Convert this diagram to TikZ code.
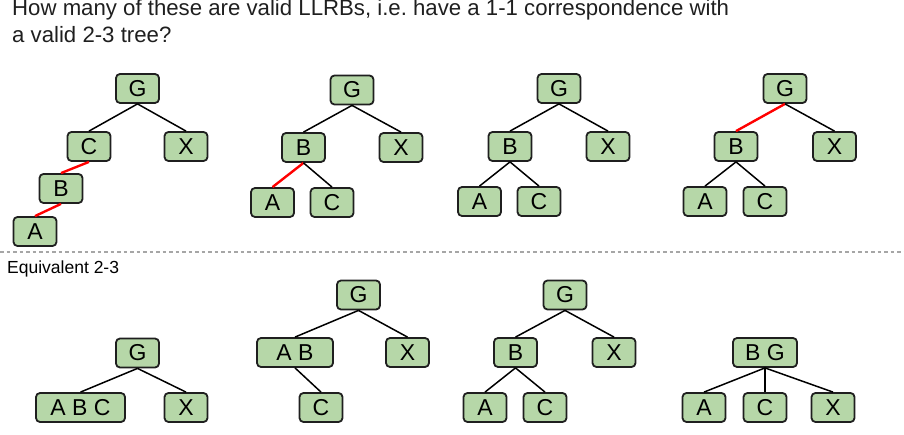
\documentclass[tikz,border=0pt]{standalone}
\usepackage{fontspec}
\setmainfont{Liberation Sans}
\definecolor{nodefill}{HTML}{B6D7A8}
\definecolor{nodeline}{HTML}{1F1F1F}
\definecolor{titlecol}{HTML}{1F1F1F}
\definecolor{redge}{HTML}{FF0000}
\definecolor{dashcol}{HTML}{A6A6A6}
\tikzset{
  tnode/.style={draw=nodeline, fill=nodefill, line width=1.8pt, rounded corners=4pt,
    minimum width=43pt, minimum height=29pt, inner sep=0pt,
    font=\fontsize{23}{24}\selectfont},
  bedge/.style={draw=black, line width=1.5pt},
  redgeline/.style={draw=redge, line width=2.4pt},
}
\begin{document}
\begin{tikzpicture}[x=1pt,y=-1pt]
\useasboundingbox (0,0) rectangle (904,435);
% title
\node[anchor=base west, inner sep=0pt, text=titlecol, font=\fontsize{22.2}{24}\selectfont] (t1) at (12,16) {How many of these are valid LLRBs, i.e.\ have a 1-1 correspondence with};
\node[anchor=base west, inner sep=0pt, text=titlecol, font=\fontsize{22.2}{24}\selectfont] (t2) at (12,42.7) {a valid 2-3 tree?};
% tree 1
\node[tnode] (g1) at (137.5,88.5) {G};
\node[tnode] (c1) at (89,146.5) {C};
\node[tnode] (x1) at (186,146.5) {X};
\node[tnode] (b1) at (61,188.5) {B};
\node[tnode] (a1) at (35,231.5) {A};
\draw[bedge] (g1.south) -- (c1.north);
\draw[bedge] (g1.south) -- (x1.north);
\draw[redgeline] (c1.south) -- (b1.north);
\draw[redgeline] (b1.south) -- (a1.north);
% tree 2
\node[tnode] (g2) at (352,90) {G};
\node[tnode] (b2) at (303.5,147.5) {B};
\node[tnode] (x2) at (401,147.5) {X};
\node[tnode] (a2) at (272.5,202.5) {A};
\node[tnode] (c2) at (332,202.5) {C};
\draw[bedge] (g2.south) -- (b2.north);
\draw[bedge] (g2.south) -- (x2.north);
\draw[redgeline] (b2.south) -- (a2.north);
\draw[bedge] (b2.south) -- (c2.north);
% tree 3
\node[tnode] (g3) at (559,88.5) {G};
\node[tnode] (b3) at (510,146.5) {B};
\node[tnode] (x3) at (608,146.5) {X};
\node[tnode] (a3) at (479.5,201.5) {A};
\node[tnode] (c3) at (539,201.5) {C};
\draw[bedge] (g3.south) -- (b3.north);
\draw[bedge] (g3.south) -- (x3.north);
\draw[bedge] (b3.south) -- (a3.north);
\draw[bedge] (b3.south) -- (c3.north);
% tree 4
\node[tnode] (g4) at (785,88.5) {G};
\node[tnode] (b4) at (736,146.5) {B};
\node[tnode] (x4) at (834.5,146.5) {X};
\node[tnode] (a4) at (705,201.5) {A};
\node[tnode] (c4) at (765,201.5) {C};
\draw[redgeline] (g4.south) -- (b4.north);
\draw[bedge] (g4.south) -- (x4.north);
\draw[bedge] (b4.south) -- (a4.north);
\draw[bedge] (b4.south) -- (c4.north);
% separator
\coordinate (dl) at (0,252);
\coordinate (dr) at (904,252);
\draw[dashcol, line width=1.4pt, dash pattern=on 3.5pt off 3pt] (dl) -- (dr);
\node[anchor=base west, inner sep=0pt, font=\fontsize{17.5}{19}\selectfont] (eq) at (7,274) {Equivalent 2-3};
% tree 5
\node[tnode] (g5) at (137.5,353) {G};
\node[tnode, minimum width=89pt] (abc5) at (80.5,407.5) {A B C};
\node[tnode] (x5) at (186,407.5) {X};
\draw[bedge] (g5.south) -- (abc5.north);
\draw[bedge] (g5.south) -- (x5.north);
% tree 6
\node[tnode] (g6) at (358.5,295) {G};
\node[tnode, minimum width=76pt] (ab6) at (295,352.5) {A B};
\node[tnode] (x6) at (407.5,352.5) {X};
\node[tnode] (c6) at (321,407.5) {C};
\draw[bedge] (g6.south) -- (ab6.north);
\draw[bedge] (g6.south) -- (x6.north);
\draw[bedge] (ab6.south) -- (c6.north);
% tree 7
\node[tnode] (g7) at (565,295) {G};
\node[tnode] (b7) at (515.5,352.5) {B};
\node[tnode] (x7) at (614,352.5) {X};
\node[tnode] (a7) at (485,407.5) {A};
\node[tnode] (c7) at (545,407.5) {C};
\draw[bedge] (g7.south) -- (b7.north);
\draw[bedge] (g7.south) -- (x7.north);
\draw[bedge] (b7.south) -- (a7.north);
\draw[bedge] (b7.south) -- (c7.north);
% tree 8
\node[tnode, minimum width=64pt] (bg8) at (765,352.5) {B G};
\node[tnode] (a8) at (704,407.5) {A};
\node[tnode] (c8) at (765,407.5) {C};
\node[tnode] (x8) at (833,407.5) {X};
\draw[bedge] (bg8.south) -- (a8.north);
\draw[bedge] (bg8.south) -- (c8.north);
\draw[bedge] (bg8.south) -- (x8.north);
\end{tikzpicture}
\end{document}
